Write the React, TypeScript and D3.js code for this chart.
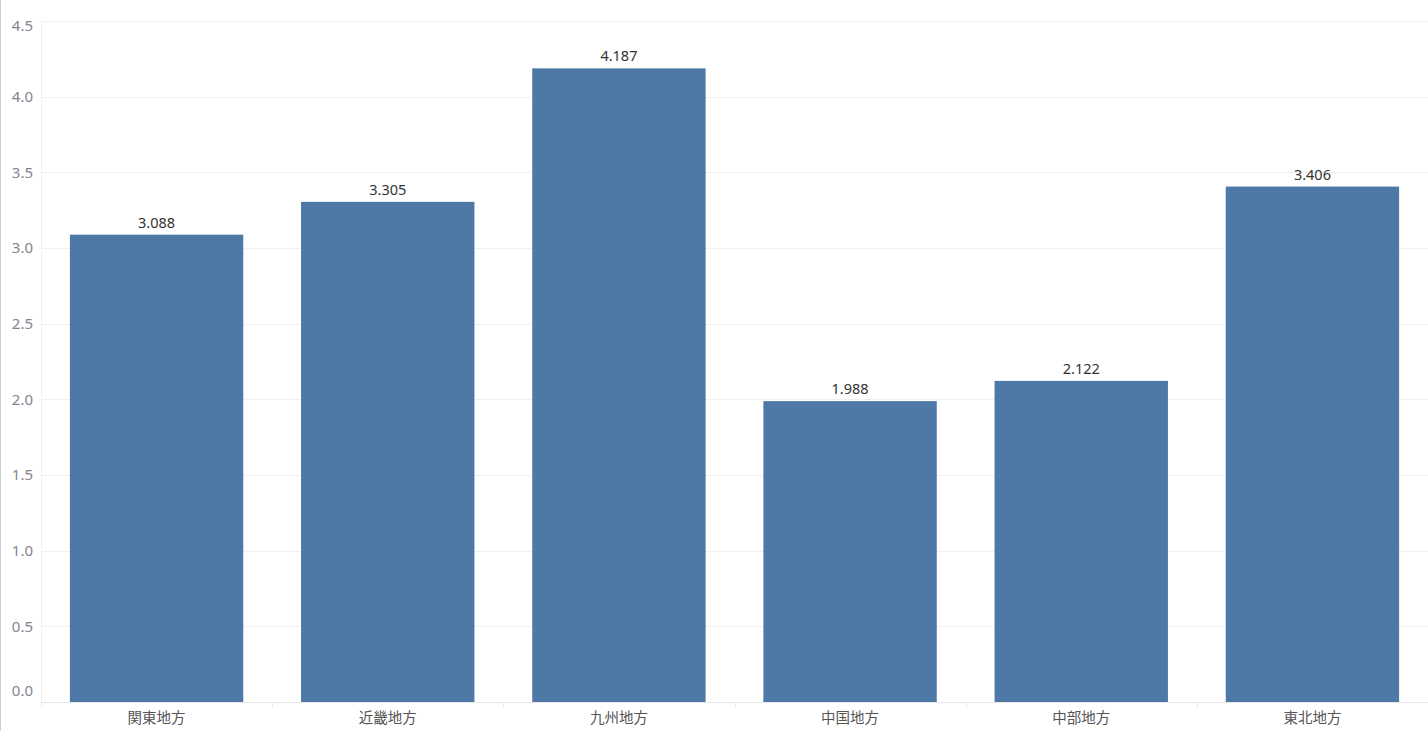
import { useEffect, useRef } from 'react';
import * as d3 from 'd3';

const WIDTH = 1428;
const HEIGHT = 731;
const MARGIN = { top: 21, right: 0, bottom: 29, left: 41 };

const regions = ['関東地方', '近畿地方', '九州地方', '中国地方', '中部地方', '東北地方'];
const values = [3.088, 3.305, 4.187, 1.988, 2.122, 3.406];
const yTicks = [0, 0.5, 1, 1.5, 2, 2.5, 3, 3.5, 4, 4.5];

const BAR_COLOR = '#4e79a7';
const GRID_COLOR = '#f0f0f0';
const FONT = '"Noto Sans", "Noto Sans CJK JP", sans-serif';

export default function App() {
  const svgRef = useRef<SVGSVGElement>(null);

  useEffect(() => {
    if (!svgRef.current) return;
    const innerWidth = WIDTH - MARGIN.left - MARGIN.right;
    const innerHeight = HEIGHT - MARGIN.top - MARGIN.bottom;

    const x = d3.scaleBand<string>().domain(regions).range([0, innerWidth]).paddingInner(0.25).paddingOuter(0.125);
    const y = d3.scaleLinear().domain([0, 4.5]).range([innerHeight, 0]);

    const svg = d3.select(svgRef.current);
    svg.selectAll('*').remove();

    // left frame line of the page
    svg.append('line')
      .attr('x1', 0.5).attr('x2', 0.5).attr('y1', 0).attr('y2', HEIGHT)
      .attr('stroke', '#cfcfcf');

    const g = svg.append('g').attr('transform', `translate(${MARGIN.left},${MARGIN.top})`);

    // gridlines
    g.append('g')
      .selectAll('line')
      .data(yTicks)
      .join('line')
      .attr('x1', 0).attr('x2', innerWidth)
      .attr('y1', (d) => Math.round(y(d)) + 0.5)
      .attr('y2', (d) => Math.round(y(d)) + 0.5)
      .attr('stroke', GRID_COLOR);

    // plot left edge
    g.append('line')
      .attr('x1', 0.5).attr('x2', 0.5).attr('y1', 0).attr('y2', innerHeight + 6)
      .attr('stroke', GRID_COLOR);

    // y tick labels: centred on gridlines, the two ends pushed inside the plot
    const tickY = (d: number) => {
      const c = y(d);
      if (d === 4.5) return c + 5;
      if (d === 0) return c - 11;
      return c;
    };
    g.append('g')
      .selectAll('text')
      .data(yTicks)
      .join('text')
      .attr('x', -8)
      .attr('y', (d) => tickY(d))
      .attr('dy', '0.36em')
      .attr('text-anchor', 'end')
      .attr('fill', '#85848f')
      .attr('font-size', '15px')
      .attr('font-family', FONT)
      .text((d) => d.toFixed(1));

    // bars
    g.append('g')
      .selectAll('rect')
      .data(regions)
      .join('rect')
      .attr('x', (d) => x(d)!)
      .attr('width', x.bandwidth())
      .attr('y', (_d, i) => y(values[i]))
      .attr('height', (_d, i) => innerHeight - y(values[i]))
      .attr('fill', BAR_COLOR);

    // value labels
    g.append('g')
      .selectAll('text')
      .data(regions)
      .join('text')
      .attr('x', (d) => x(d)! + x.bandwidth() / 2)
      .attr('y', (_d, i) => y(values[i]) - 7)
      .attr('text-anchor', 'middle')
      .attr('fill', '#333')
      .attr('font-size', '14.5px')
      .attr('font-family', FONT)
      .text((_d, i) => values[i].toFixed(3));

    // x axis baseline and band separators
    g.append('line')
      .attr('x1', 0).attr('x2', innerWidth)
      .attr('y1', innerHeight + 0.5).attr('y2', innerHeight + 0.5)
      .attr('stroke', '#e6e6e6');
    g.append('g')
      .selectAll('line')
      .data(regions.slice(1))
      .join('line')
      .attr('x1', (d) => Math.round(x(d)! - (x.step() - x.bandwidth()) / 2) + 0.5)
      .attr('x2', (d) => Math.round(x(d)! - (x.step() - x.bandwidth()) / 2) + 0.5)
      .attr('y1', innerHeight)
      .attr('y2', innerHeight + 6)
      .attr('stroke', '#ececec');

    // category labels
    g.append('g')
      .selectAll('text')
      .data(regions)
      .join('text')
      .attr('x', (d) => x(d)! + x.bandwidth() / 2)
      .attr('y', innerHeight + 21)
      .attr('text-anchor', 'middle')
      .attr('fill', '#555')
      .attr('font-size', '14.5px')
      .attr('font-family', FONT)
      .text((d) => d);
  }, []);

  return (
    <div style={{ position: 'fixed', left: 0, top: 0, background: '#fff' }}>
      <svg ref={svgRef} width={WIDTH} height={HEIGHT} style={{ display: 'block' }} />
    </div>
  );
}
